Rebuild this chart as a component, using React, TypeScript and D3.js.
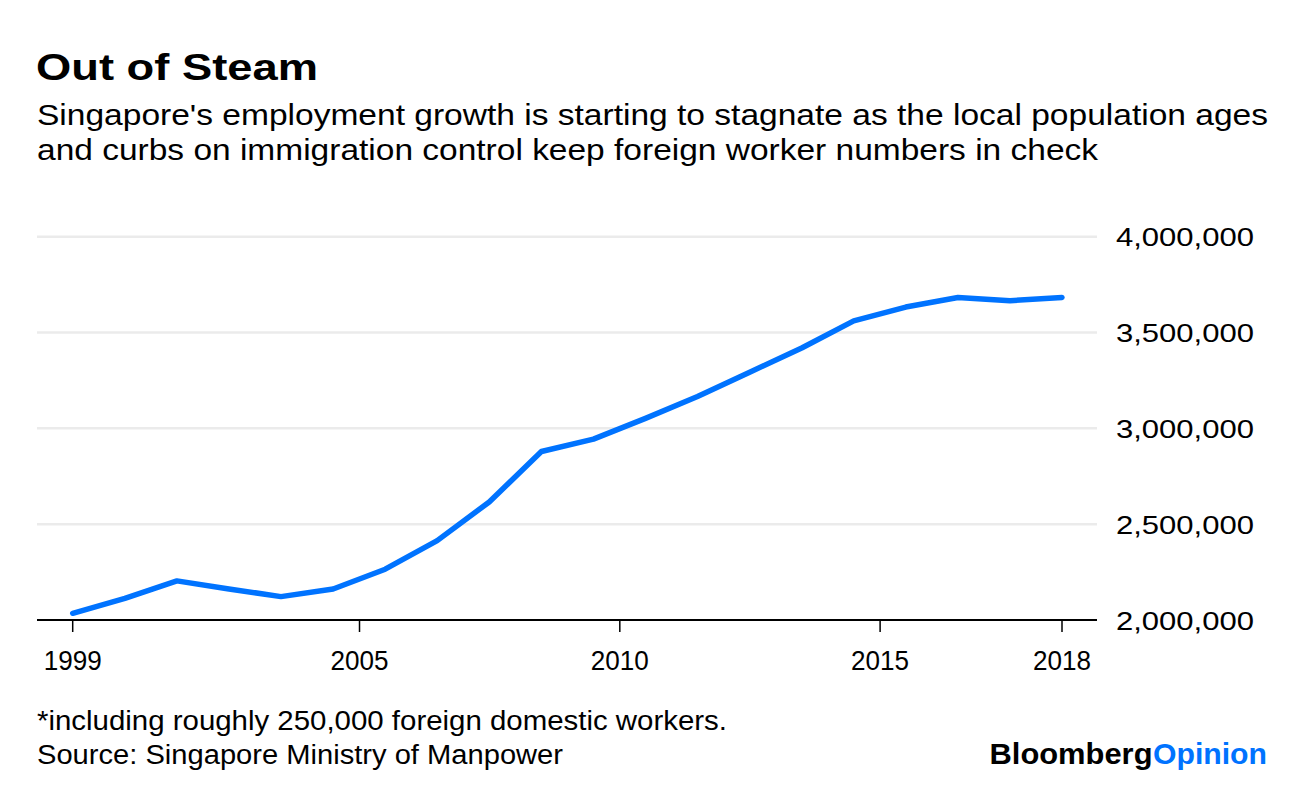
import React from "react";
import * as d3 from "d3";

const years = [1999, 2000, 2001, 2002, 2003, 2004, 2005, 2006, 2007, 2008, 2009, 2010, 2011, 2012, 2013, 2014, 2015, 2016, 2017, 2018];
const employment = [2035000, 2113000, 2204000, 2162000, 2122000, 2162000, 2265000, 2414000, 2616000, 2879000, 2944000, 3052000, 3166000, 3293000, 3419000, 3561000, 3633000, 3683000, 3666000, 3683000];
const yTicks = [2000000, 2500000, 3000000, 3500000, 4000000];
const xTickYears = [2005, 2010, 2015];

const W = 1296;
const H = 786;
const FONT = "'Liberation Sans', Arial, Helvetica, sans-serif";

export default function App() {
  const mid = (y: number) => new Date(y, 5, 30);
  const x = d3.scaleTime().domain([mid(years[0]), mid(years[years.length - 1])]).range([72.7, 1062]);
  const y = d3.scaleLinear().domain([2000000, 4000000]).range([620, 236.7]);
  const line = d3
    .line<number>()
    .x((_, i) => x(mid(years[i])))
    .y((d) => y(d));
  const fmt = d3.format(",");
  const xTicks = [
    { pos: x(mid(years[0])), label: String(years[0]) },
    ...xTickYears.map((yr) => ({ pos: x(new Date(yr, 0, 1)), label: String(yr) })),
    { pos: x(mid(years[years.length - 1])), label: String(years[years.length - 1]) },
  ];
  const left = 37;
  const right = 1097;

  return (
    <svg width={W} height={H} style={{ position: "absolute", left: 0, top: 0, background: "#fff" }} fontFamily={FONT}>
      <rect width={W} height={H} fill="#fff" />
      <text x={36} y={80} fontSize={37.5} fontWeight="bold" fill="#000" textLength={282} lengthAdjust="spacingAndGlyphs">Out of Steam</text>
      <text x={37} y={125} fontSize={30} fill="#000" textLength={1231} lengthAdjust="spacingAndGlyphs">Singapore's employment growth is starting to stagnate as the local population ages</text>
      <text x={37} y={160} fontSize={30} fill="#000" textLength={1061} lengthAdjust="spacingAndGlyphs">and curbs on immigration control keep foreign worker numbers in check</text>

      {yTicks.map((t) =>
        t === 2000000 ? null : (
          <line key={t} x1={left} x2={right} y1={y(t)} y2={y(t)} stroke="#ebebeb" strokeWidth={2.5} />
        )
      )}
      {yTicks.map((t) => (
        <text key={"l" + t} x={1116} y={y(t)} dy="0.36em" fontSize={26.5} fill="#000" textLength={138} lengthAdjust="spacingAndGlyphs">
          {fmt(t)}
        </text>
      ))}

      <line x1={left} x2={right} y1={620} y2={620} stroke="#000" strokeWidth={2} />
      {xTicks.map((t) => (
        <g key={t.label}>
          <line x1={t.pos} x2={t.pos} y1={620} y2={632} stroke="#000" strokeWidth={1.5} />
          <text x={t.pos} y={670} textAnchor="middle" fontSize={27} fill="#000" textLength={58} lengthAdjust="spacingAndGlyphs">
            {t.label}
          </text>
        </g>
      ))}

      <path d={line(employment) || ""} fill="none" stroke="#0073ff" strokeWidth={5.5} strokeLinejoin="round" strokeLinecap="round" />

      <text x={37} y={730} fontSize={27} fill="#000" textLength={690} lengthAdjust="spacingAndGlyphs">*including roughly 250,000 foreign domestic workers.</text>
      <text x={37} y={764} fontSize={27} fill="#000" textLength={526} lengthAdjust="spacingAndGlyphs">Source: Singapore Ministry of Manpower</text>

      <text x={989.5} y={764} fontSize={29.5} fontWeight="bold" fill="#000" textLength={163} lengthAdjust="spacingAndGlyphs">Bloomberg</text>
      <text x={1153} y={764} fontSize={29.5} fontWeight="bold" fill="#0073ff" textLength={114} lengthAdjust="spacingAndGlyphs">Opinion</text>
    </svg>
  );
}
